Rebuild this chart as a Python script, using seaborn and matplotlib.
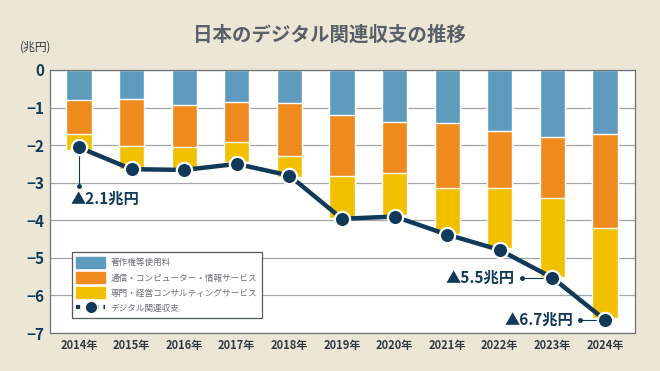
import numpy as np
import matplotlib.pyplot as plt
import pandas as pd
import seaborn as sns
from matplotlib.patches import Patch
from matplotlib.lines import Line2D

# data (兆円)
years = ["2014年", "2015年", "2016年", "2017年", "2018年", "2019年",
         "2020年", "2021年", "2022年", "2023年", "2024年"]
blue_part = [0.79, 0.77, 0.92, 0.84, 0.88, 1.19, 1.38, 1.41, 1.63, 1.77, 1.70]
orange_part = [0.91, 1.24, 1.14, 1.07, 1.40, 1.64, 1.37, 1.73, 1.50, 1.64, 2.50]
yellow_part = [0.43, 0.63, 0.55, 0.55, 0.56, 1.10, 1.12, 1.23, 1.61, 2.09, 2.41]
total = [-2.06, -2.64, -2.66, -2.50, -2.81, -3.96, -3.90, -4.38, -4.79, -5.53, -6.65]
labels = ["著作権等使用料", "通信・コンピューター・情報サービス",
          "専門・経営コンサルティングサービス", "デジタル関連収支"]

BG = "#ece6d7"
BLUE = "#5f9bbd"
ORANGE = "#ef8b1d"
YELLOW = "#f3c000"
NAVY = "#103a57"
JP = ["Noto Sans CJK JP", "DejaVu Sans"]

sns.set_style("white")
plt.rcParams["font.family"] = JP

df = pd.DataFrame({"year": years, "blue": blue_part,
                   "orange": orange_part, "yellow": yellow_part})
df["c1"] = -df["blue"]
df["c2"] = -(df["blue"] + df["orange"])
df["c3"] = -(df["blue"] + df["orange"] + df["yellow"])

fig = plt.figure(figsize=(6.6, 3.71), dpi=100, facecolor=BG)
ax = fig.add_axes([50 / 660, 38 / 371, 585 / 660, 263 / 371])
ax.set_facecolor("white")

ax.yaxis.grid(True, color="#a3a6a8", linewidth=0.9, zorder=0)
ax.set_axisbelow(True)

# stacked bars drawn back to front
for col, c in [("c3", YELLOW), ("c2", ORANGE), ("c1", BLUE)]:
    sns.barplot(data=df, x="year", y=col, color=c, width=0.48,
                saturation=1, ax=ax, zorder=2)

sns.lineplot(x=np.arange(len(years)), y=total, color=NAVY, linewidth=3.2,
             marker="o", markersize=11, markerfacecolor=NAVY,
             markeredgecolor="white", markeredgewidth=1.6, ax=ax, zorder=5)

ax.set_ylim(-7, 0)
ax.set_xlim(-0.55, 10.57)
ax.set_yticks(range(0, -8, -1))
ax.set_yticklabels(["0"] + [f"\u2212{i}" for i in range(1, 8)],
                   fontsize=11, fontweight="bold", color=NAVY)
ax.set_xticks(range(len(years)))
ax.set_xticklabels(years, fontsize=8, fontweight="bold", color="#333a40")
ax.tick_params(axis="both", length=0, pad=4)
ax.set_xlabel("")
ax.set_ylabel("")
for s in ax.spines.values():
    s.set_color("#6d7479")
    s.set_linewidth(0.9)

# annotations
ax.plot([0, 0], [total[0], -3.1], color=NAVY, linewidth=0.8, zorder=4)
ax.plot(0, -3.1, "o", color=NAVY, markersize=2.5, zorder=4)
ax.text(-0.15, -3.42, "▲2.1兆円", fontsize=11, fontweight="bold",
        color=NAVY, va="center", ha="left")

ax.plot([9 - 0.58, 9], [total[9], total[9]], color=NAVY, linewidth=0.8, zorder=4)
ax.plot(9 - 0.58, total[9], "o", color=NAVY, markersize=2.5, zorder=4)
ax.text(9 - 0.72, total[9], "▲5.5兆円", fontsize=11, fontweight="bold",
        color=NAVY, va="center", ha="right")

ax.plot([10 - 0.48, 10], [total[10], total[10]], color=NAVY, linewidth=0.8, zorder=4)
ax.plot(10 - 0.48, total[10], "o", color=NAVY, markersize=2.5, zorder=4)
ax.text(10 - 0.6, total[10], "▲6.7兆円", fontsize=11, fontweight="bold",
        color=NAVY, va="center", ha="right")

handles = [Patch(color=BLUE), Patch(color=ORANGE), Patch(color=YELLOW),
           Line2D([], [], color=NAVY, linewidth=3, linestyle=(0, (1, 1.2)),
                  marker="o", markersize=9, markerfacecolor=NAVY,
                  markeredgecolor="white")]
leg = ax.legend(handles, labels, loc="lower left",
                bbox_to_anchor=(0.03, 0.04), fontsize=6.2,
                frameon=True, fancybox=False, edgecolor="#555c60",
                framealpha=1, handlelength=3.4, handleheight=1.6,
                labelspacing=0.5, borderpad=0.5, handletextpad=0.6)
leg.get_frame().set_linewidth(0.9)
for t in leg.get_texts():
    t.set_color("#6b7076")

fig.text(20 / 660, 1 - 47 / 371, "(兆円)", fontsize=8.5, color="#333a40",
         va="center", ha="left")
fig.text(0.5, 1 - 35 / 371, "日本のデジタル関連収支の推移", fontsize=14,
         fontweight="bold", color="#596068", ha="center", va="center")

fig.savefig("out.png", dpi=100, facecolor=BG)
